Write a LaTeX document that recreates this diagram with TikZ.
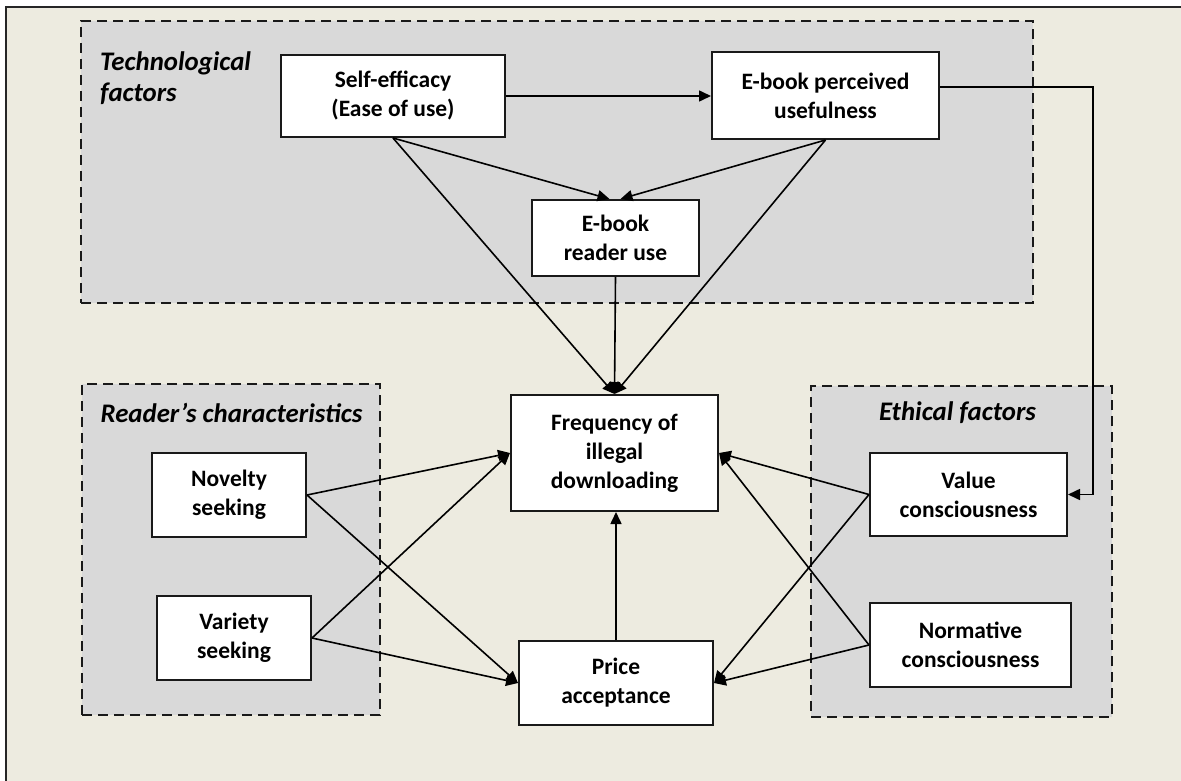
\documentclass[tikz,border=0pt]{standalone}
\usepackage{fontspec}
\setmainfont{Carlito}
\usetikzlibrary{arrows.meta,calc}
\definecolor{bgc}{HTML}{EDEBE0}
\definecolor{grpc}{HTML}{D9D9D9}
\begin{document}
\begin{tikzpicture}[x=1pt,y=-1pt,
  box/.style={draw=black!90, fill=white, line width=2pt, align=center, inner sep=0pt,
    font=\bfseries\fontsize{23.5}{29}\selectfont},
  grp/.style={draw=black!90, fill=grpc, line width=2pt, dash pattern=on 10pt off 6pt, inner sep=0pt},
  lbl/.style={font=\bfseries\itshape\fontsize{26.8}{31.5}\selectfont, inner sep=0pt},
  arr/.style={line width=1.6pt, draw=black, -{Triangle[length=12pt,width=11pt]}}]
\useasboundingbox (0,0) rectangle (1181,781);
\begin{scope}
\clip (0,0) rectangle (1181,781);
\fill[white] (0,0) rectangle (1181,781);
\draw[fill=bgc, draw=black!85, line width=2pt] (6,7) rectangle (1200,800);
\end{scope}
% groups
\node[grp, minimum width=952pt, minimum height=282pt] (tech) at (557,162) {};
\node[grp, minimum width=298pt, minimum height=331pt] (reader) at (231,549.5) {};
\node[grp, minimum width=301pt, minimum height=331pt] (ethic) at (961.5,551.5) {};
\node[lbl, anchor=west, align=left] (techl) at (100,78) {Technological\\factors};
\node[lbl] (readerl) at (231.5,413) {Reader’s characteristics};
\node[lbl] (ethicl) at (957.5,413) {Ethical factors};
% boxes
\node[box, minimum width=224pt, minimum height=82pt] (SE) at (393,96) {Self-efficacy\\(Ease of use)};
\node[box, minimum width=227pt, minimum height=87pt] (PU) at (825.5,95.5) {E-book perceived\\usefulness};
\node[box, minimum width=167pt, minimum height=76pt] (RU) at (615.5,238) {E-book\\reader use};
\node[box, minimum width=207pt, minimum height=116pt] (F) at (614.5,453) {Frequency of\\illegal\\downloading};
\node[box, minimum width=194pt, minimum height=84pt] (P) at (616,683) {Price\\acceptance};
\node[box, minimum width=154pt, minimum height=84pt] (N) at (229,495) {Novelty\\seeking};
\node[box, minimum width=154pt, minimum height=84pt] (V) at (234,638) {Variety\\seeking};
\node[box, minimum width=197pt, minimum height=83pt] (VC) at (968.5,494.5) {Value\\consciousness};
\node[box, minimum width=201pt, minimum height=84pt] (NC) at (970.5,645) {Normative\\consciousness};
% connectors
\draw[arr] (SE.east) -- (SE.east -| PU.west);
\draw[arr] (SE.south) -- ([xshift=-6pt]RU.north);
\draw[arr] (PU.south) -- ([xshift=5pt]RU.north);
\draw[arr] (SE.south) -- (F.north);
\draw[arr] (RU.south) -- (F.north);
\draw[arr] (PU.south) -- (F.north);
\draw[arr] (N.east) -- (F.west);
\draw[arr] (N.east) -- (P.west);
\draw[arr] (V.east) -- (F.west);
\draw[arr] (V.east) -- (P.west);
\draw[arr] (P.north) -- (P.north |- F.south);
\draw[arr] (VC.west) -- (F.east);
\draw[arr] (VC.west) -- (P.east);
\draw[arr] (NC.west) -- (F.east);
\draw[arr] (NC.west) -- (P.east);
\draw[arr] ([yshift=8.5pt]PU.east) -| ([xshift=25pt]VC.east) -- (VC.east);
\end{tikzpicture}
\end{document}
